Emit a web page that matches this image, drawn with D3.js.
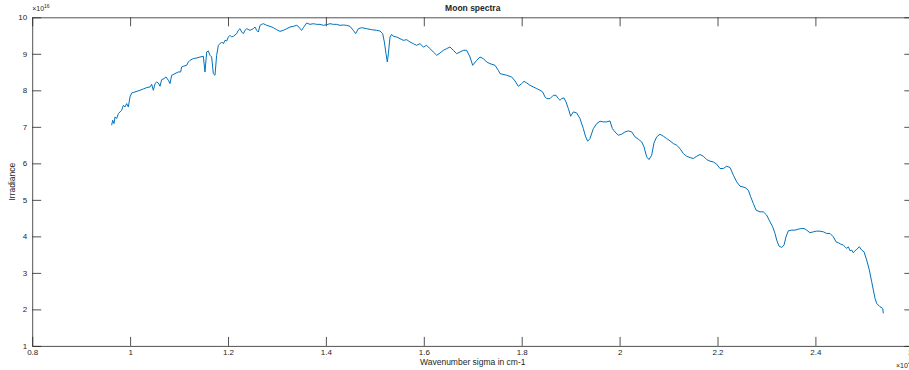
<!DOCTYPE html>
<meta charset="utf-8">
<script src="https://d3js.org/d3.v7.min.js"></script>
<style>
  body { margin: 0; background: #fff; }
  text { font-family: "Liberation Sans", Arial, sans-serif; fill: #262626; }
  .axis path, .axis line { stroke: #262626; stroke-width: 0.8px; }
  .axis text { font-size: 8px; }
</style>
<svg id="chart" width="909" height="370"></svg>
<script>
// wavenumber sigma (cm-1)
const sigma = [
  9623, 9644, 9671, 9692, 9726, 9760, 9794, 9828, 9862, 9896, 9930, 9964, 9998,
  10032, 10100, 10202, 10270, 10338, 10407, 10441, 10475, 10509, 10543, 10577,
  10611, 10645, 10693, 10733, 10781, 10815, 10849, 10917, 10985, 11033, 11053,
  11087, 11156, 11190, 11224, 11292, 11360, 11428, 11496, 11530, 11564, 11598,
  11632, 11666, 11700, 11734, 11768, 11803, 11871, 11905, 11939, 11973, 12007,
  12041, 12075, 12109, 12177, 12211, 12245, 12279, 12313, 12347, 12381, 12450,
  12518, 12552, 12586, 12620, 12654, 12688, 12722, 12790, 12858, 12926, 12994,
  13062, 13131, 13199, 13267, 13335, 13403, 13437, 13471, 13505, 13539, 13607,
  13675, 13743, 13811, 13880, 13948, 14016, 14084, 14152, 14220, 14288, 14356,
  14424, 14492, 14560, 14608, 14663, 14731, 14833, 14935, 15037, 15105, 15160,
  15194, 15228, 15255, 15276, 15310, 15344, 15378, 15446, 15514, 15582, 15650,
  15718, 15786, 15854, 15922, 15990, 16059, 16127, 16195, 16263, 16331, 16399,
  16467, 16535, 16603, 16671, 16739, 16808, 16876, 16944, 16998, 17080, 17148,
  17216, 17284, 17352, 17454, 17523,
  17557, 17693, 17795, 17863, 17931, 17999, 18047, 18101, 18170, 18238, 18306,
  18374, 18428, 18476, 18510, 18578, 18646, 18701, 18748, 18782, 18817, 18864,
  18905, 18953, 19000, 19055, 19123, 19191, 19259, 19307, 19348, 19395, 19464,
  19532, 19600, 19668, 19736, 19804, 19852, 19906, 19974, 20042, 20110, 20179,
  20247, 20315, 20383, 20451, 20499, 20553, 20601, 20655, 20703, 20757, 20825,
  20894, 20962, 21030, 21098, 21166, 21234, 21302, 21370, 21438, 21507, 21575,
  21643, 21711, 21779, 21847, 21915, 21983, 22051, 22119, 22187, 22256, 22324,
  22392, 22460, 22562, 22630, 22678, 22732, 22787, 22868, 22937, 23005, 23073,
  23127, 23175, 23209, 23257, 23311, 23359, 23400, 23447, 23515, 23583, 23652,
  23720, 23767, 23822, 23890, 23958, 24026, 24094, 24162, 24230, 24298, 24366,
  24421, 24469, 24516, 24571, 24605, 24639, 24673, 24707, 24741, 24775, 24809,
  24843, 24898, 24945, 24993, 25048, 25102, 25150, 25184, 25218, 25252, 25320,
  25374, 25388
];

// irradiance (x 1e16)
const irradiance = [
  7.044, 7.180, 7.089, 7.272, 7.226, 7.363, 7.408, 7.454, 7.591, 7.545, 7.636, 7.545, 7.819,
  7.928, 7.956, 8.001, 8.038, 8.074, 8.092, 8.165, 8.001, 8.184, 8.229, 8.202,
  8.111, 8.293, 8.320, 8.366, 8.275, 8.184, 8.412, 8.457, 8.503, 8.503, 8.640,
  8.658, 8.685, 8.776, 8.822, 8.868, 8.886, 8.913, 8.931, 8.503, 9.050, 9.077,
  8.959, 8.913, 8.457, 8.412, 8.959, 9.232, 9.324, 9.278, 9.369, 9.351, 9.460,
  9.506, 9.460, 9.479, 9.552, 9.643, 9.688, 9.597, 9.552, 9.643, 9.688, 9.643,
  9.688, 9.734, 9.643, 9.597, 9.780, 9.807, 9.825, 9.780, 9.752, 9.716, 9.661,
  9.615, 9.643, 9.688, 9.734, 9.752, 9.780, 9.752, 9.688, 9.643, 9.716, 9.843,
  9.807, 9.825, 9.807, 9.807, 9.780, 9.798, 9.825, 9.807, 9.807, 9.780, 9.789,
  9.780, 9.752, 9.643, 9.552, 9.688, 9.716, 9.688, 9.661, 9.643, 9.625, 9.552,
  9.324, 9.004, 8.776, 9.004, 9.460, 9.533, 9.479, 9.460, 9.415, 9.369, 9.387,
  9.324, 9.278, 9.232, 9.278, 9.187, 9.232, 9.141, 9.050, 8.959, 9.023, 9.096,
  9.141, 9.187, 9.096, 9.004, 9.050, 9.096, 9.096, 8.913, 8.685, 8.822, 8.913,
  8.868, 8.776, 8.731, 8.685, 8.548,
  8.457, 8.412, 8.366, 8.257, 8.111, 8.184, 8.247, 8.202, 8.138, 8.092, 8.047,
  8.001, 7.956, 7.819, 7.773, 7.773, 7.864, 7.864, 7.773, 7.728, 7.773, 7.791,
  7.682, 7.500, 7.290, 7.408, 7.381, 7.226, 6.952, 6.724, 6.606, 6.679, 6.952,
  7.089, 7.153, 7.135, 7.135, 7.162, 6.952, 6.861, 6.770, 6.797, 6.861, 6.889,
  6.861, 6.724, 6.661, 6.588, 6.451, 6.177, 6.104, 6.223, 6.560, 6.724, 6.797,
  6.743, 6.679, 6.615, 6.542, 6.496, 6.405, 6.268, 6.195, 6.159, 6.132, 6.195,
  6.241, 6.195, 6.104, 6.059, 6.040, 5.977, 5.858, 5.858, 5.922, 5.885, 5.676,
  5.493, 5.375, 5.338, 5.265, 5.083, 4.900, 4.718, 4.672, 4.672, 4.581, 4.399,
  4.262, 4.080, 3.897, 3.733, 3.697, 3.760, 3.988, 4.153, 4.171, 4.171, 4.198,
  4.216, 4.216, 4.171, 4.098, 4.125, 4.143, 4.143, 4.125, 4.080, 4.080, 3.988,
  3.852, 3.824, 3.788, 3.760, 3.715, 3.669, 3.715, 3.606, 3.624, 3.551, 3.606,
  3.642, 3.715, 3.624, 3.578, 3.350, 3.077, 2.757, 2.529, 2.301, 2.164, 2.073,
  2.028, 1.891
];

const xTicks = [8000, 10000, 12000, 14000, 16000, 18000, 20000, 22000, 24000, 26000];
const yTicks = [1, 2, 3, 4, 5, 6, 7, 8, 9, 10];

const svg = d3.select("#chart");
const mLeft = 32.2, mRight = 913.3, mTop = 17.3, mBottom = 345.9;

const x = d3.scaleLinear().domain([8000, 26000]).range([mLeft, mRight]);
const y = d3.scaleLinear().domain([1, 10]).range([mBottom, mTop]);

// axes, ticks pointing inward like matlab
svg.append("g").attr("class", "axis")
  .attr("transform", `translate(0,${mBottom})`)
  .call(d3.axisBottom(x).tickValues(xTicks).tickSize(-9).tickSizeOuter(0)
    .tickPadding(3).tickFormat(d => d3.format("~g")(d / 1e4)));

svg.append("g").attr("class", "axis")
  .attr("transform", `translate(0,${mTop})`)
  .call(d3.axisTop(x).tickValues(xTicks).tickSize(-9).tickSizeOuter(0).tickFormat(""));

svg.append("g").attr("class", "axis")
  .attr("transform", `translate(${mLeft},0)`)
  .call(d3.axisLeft(y).tickValues(yTicks).tickSize(-9).tickSizeOuter(0).tickPadding(5));

svg.append("g").attr("class", "axis")
  .attr("transform", `translate(${mRight},0)`)
  .call(d3.axisRight(y).tickValues(yTicks).tickSize(-9).tickSizeOuter(0).tickFormat(""));

// spectrum
const pts = sigma.map((s, i) => [s, irradiance[i]]);
svg.append("path")
  .datum(pts)
  .attr("fill", "none")
  .attr("stroke", "#0072BD")
  .attr("stroke-width", 1)
  .attr("stroke-linejoin", "round")
  .attr("d", d3.line().x(d => x(d[0])).y(d => y(d[1])));

// exponent labels
const ey = svg.append("text").attr("x", mLeft).attr("y", 11).style("font-size", "7px");
ey.append("tspan").text("\u00d710");
ey.append("tspan").attr("dy", -3).style("font-size", "5px").text("16");

const ex = svg.append("text").attr("x", 896).attr("y", 368).style("font-size", "7px");
ex.append("tspan").text("\u00d710");
ex.append("tspan").attr("dy", -3).style("font-size", "5px").text("4");

// title and axis labels
const cx = (mLeft + mRight) / 2;
svg.append("text").attr("x", cx).attr("y", 11)
  .attr("text-anchor", "middle")
  .style("font-size", "8.5px").style("font-weight", "bold")
  .text("Moon spectra");

svg.append("text").attr("x", cx).attr("y", 365)
  .attr("text-anchor", "middle")
  .style("font-size", "8.5px")
  .text("Wavenumber sigma in cm-1");

svg.append("text")
  .attr("transform", `translate(15,${(mTop + mBottom) / 2}) rotate(-90)`)
  .attr("text-anchor", "middle")
  .style("font-size", "8.5px")
  .text("Irradiance");
</script>
